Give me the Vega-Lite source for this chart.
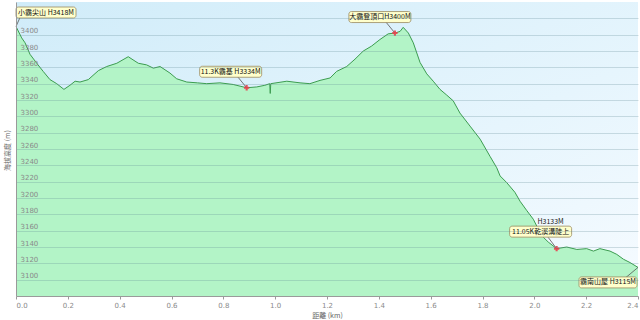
{
  "$schema": "https://vega.github.io/schema/vega-lite/v6.json",
  "width": 622,
  "height": 294,
  "autosize": {"type": "none"},
  "padding": {"left": 16, "top": 2, "right": 2, "bottom": 24},
  "background": "white",
  "config": {
    "view": {
      "stroke": null,
      "fill": {"gradient": "linear", "x1": 0, "y1": 0, "x2": 1, "y2": 1,
        "stops": [{"offset": 0, "color": "#d0ecf9"}, {"offset": 0.6, "color": "#e6f5fd"}, {"offset": 1, "color": "#f6fbff"}]}
    },
    "axis": {
      "labelFont": "DejaVu Sans", "labelFontSize": 7, "labelColor": "#8a8a8a",
      "titleFont": "Noto Sans CJK TC", "titleFontSize": 7, "titleColor": "#666", "titleFontWeight": "normal",
      "domainColor": "#9a9a9a", "tickColor": "#9a9a9a"
    }
  },
  "datasets": {
    "profile": [
      {"km": 0.000, "elev": 3410}, {"km": 0.022, "elev": 3396}, {"km": 0.035, "elev": 3390},
      {"km": 0.054, "elev": 3376}, {"km": 0.080, "elev": 3365}, {"km": 0.105, "elev": 3355},
      {"km": 0.131, "elev": 3345}, {"km": 0.157, "elev": 3340}, {"km": 0.185, "elev": 3333},
      {"km": 0.208, "elev": 3338}, {"km": 0.228, "elev": 3343}, {"km": 0.247, "elev": 3342},
      {"km": 0.279, "elev": 3345}, {"km": 0.318, "elev": 3356}, {"km": 0.350, "elev": 3361},
      {"km": 0.389, "elev": 3365}, {"km": 0.433, "elev": 3373}, {"km": 0.472, "elev": 3365},
      {"km": 0.504, "elev": 3363}, {"km": 0.530, "elev": 3359}, {"km": 0.556, "elev": 3361},
      {"km": 0.594, "elev": 3353}, {"km": 0.620, "elev": 3346}, {"km": 0.659, "elev": 3342},
      {"km": 0.700, "elev": 3341}, {"km": 0.736, "elev": 3340}, {"km": 0.787, "elev": 3341},
      {"km": 0.838, "elev": 3339}, {"km": 0.890, "elev": 3335}, {"km": 0.929, "elev": 3336},
      {"km": 0.960, "elev": 3338}, {"km": 0.979, "elev": 3340}, {"km": 0.981, "elev": 3328},
      {"km": 0.983, "elev": 3340}, {"km": 1.045, "elev": 3343}, {"km": 1.096, "elev": 3341},
      {"km": 1.134, "elev": 3340}, {"km": 1.173, "elev": 3344}, {"km": 1.212, "elev": 3347},
      {"km": 1.237, "elev": 3355}, {"km": 1.276, "elev": 3361}, {"km": 1.308, "elev": 3370},
      {"km": 1.340, "elev": 3380}, {"km": 1.372, "elev": 3386}, {"km": 1.404, "elev": 3394},
      {"km": 1.436, "elev": 3401}, {"km": 1.462, "elev": 3402}, {"km": 1.482, "elev": 3404},
      {"km": 1.494, "elev": 3409}, {"km": 1.514, "elev": 3402}, {"km": 1.533, "elev": 3390},
      {"km": 1.559, "elev": 3366}, {"km": 1.585, "elev": 3352}, {"km": 1.610, "elev": 3343},
      {"km": 1.636, "elev": 3333}, {"km": 1.662, "elev": 3326}, {"km": 1.687, "elev": 3319},
      {"km": 1.713, "elev": 3304}, {"km": 1.752, "elev": 3288}, {"km": 1.791, "elev": 3272},
      {"km": 1.829, "elev": 3251}, {"km": 1.855, "elev": 3237}, {"km": 1.868, "elev": 3227},
      {"km": 1.893, "elev": 3219}, {"km": 1.925, "elev": 3207}, {"km": 1.945, "elev": 3196},
      {"km": 1.970, "elev": 3185}, {"km": 1.996, "elev": 3174}, {"km": 2.028, "elev": 3154},
      {"km": 2.054, "elev": 3146}, {"km": 2.086, "elev": 3138}, {"km": 2.125, "elev": 3140},
      {"km": 2.164, "elev": 3137}, {"km": 2.202, "elev": 3138}, {"km": 2.228, "elev": 3135},
      {"km": 2.253, "elev": 3138}, {"km": 2.292, "elev": 3135}, {"km": 2.318, "elev": 3131},
      {"km": 2.344, "elev": 3125}, {"km": 2.369, "elev": 3121}, {"km": 2.400, "elev": 3115}
    ],
    "ann": [
      {"id": 1, "km": 0.0, "elev": 3410, "label": "小霸尖山 H3418M", "marker": false},
      {"id": 2, "km": 0.890, "elev": 3335, "label": "11.3K霸基 H3334M", "marker": true},
      {"id": 3, "km": 1.462, "elev": 3402, "label": "大霸登頂口H3400M", "marker": true},
      {"id": 4, "km": 2.086, "elev": 3138, "label": "11.05K乾溪溝陡上", "marker": true},
      {"id": 5, "km": 2.400, "elev": 3115, "label": "霸南山屋 H3115M", "marker": false}
    ]
  },
  "layer": [
    {
      "data": {"name": "profile"},
      "mark": {"type": "area", "clip": true, "color": "#b3f4c7", "opacity": 1, "fillOpacity": 1, "line": {"color": "#3c9c50", "strokeWidth": 1}},
      "encoding": {
        "x": {"field": "km", "type": "quantitative",
          "scale": {"domain": [0, 2.4], "nice": false},
          "axis": {"values": [0, 0.2, 0.4, 0.6, 0.8, 1.0, 1.2, 1.4, 1.6, 1.8, 2.0, 2.2, 2.4], "format": ".1f",
            "tickCount": 20, "grid": false, "tickSize": 3, "labelPadding": 2, "title": "距離 (km)", "titlePadding": 3,
            "labelFlush": true, "labelOverlap": false, "zindex": 1}},
        "y": {"field": "elev", "type": "quantitative",
          "scale": {"domain": [3080, 3440], "nice": false, "zero": false},
          "axis": {"values": [3100, 3120, 3140, 3160, 3180, 3200, 3220, 3240, 3260, 3280, 3300, 3320, 3340, 3360, 3380, 3400, 3420],
            "tickCount": 30, "format": "d", "labelOverlap": false,
            "labelExpr": "datum.value == 3420 ? '' : datum.label",
            "grid": true, "gridColor": "#5f8793", "gridOpacity": 0.27, "ticks": false, "labelPadding": -4,
            "labelAlign": "left", "labelBaseline": "bottom", "labelOffset": -1, "labelFlush": false,
            "zindex": 1, "title": "海拔高度 (m)", "titleX": -9, "titleY": 148, "titleAngle": -90,
            "titleAlign": "center", "titleBaseline": "middle"}}
      }
    },
    {
      "data": {"name": "ann"},
      "transform": [{"filter": "datum.id == 1"}],
      "layer": [
        {"mark": {"type": "rule", "color": "#555", "strokeWidth": 0.8, "xOffset": 4, "yOffset": -9},
         "encoding": {"x": {"field": "km", "type": "quantitative"}, "y": {"field": "elev", "type": "quantitative"}, "x2": {"field": "km"}, "y2": {"field": "elev"}}},
        {"mark": {"type": "rect", "width": 60, "height": 11, "xOffset": 30, "yOffset": -14, "fill": "#ffffcc", "stroke": "#9a8a60", "strokeWidth": 0.8, "cornerRadius": 2.5},
         "encoding": {"x": {"field": "km", "type": "quantitative"}, "y": {"field": "elev", "type": "quantitative"}}},
        {"mark": {"type": "text", "dx": 30, "dy": -14, "fontSize": 7, "font": "Noto Sans CJK TC", "color": "#111", "align": "center", "baseline": "middle"},
         "encoding": {"x": {"field": "km", "type": "quantitative"}, "y": {"field": "elev", "type": "quantitative"}, "text": {"field": "label"}}}
      ]
    },
    {
      "data": {"name": "ann"},
      "transform": [{"filter": "datum.id == 2"}],
      "layer": [
        {"mark": {"type": "rule", "color": "#555", "strokeWidth": 0.8, "xOffset": -9, "yOffset": -11},
         "encoding": {"x": {"field": "km", "type": "quantitative"}, "y": {"field": "elev", "type": "quantitative"}, "x2": {"field": "km"}, "y2": {"field": "elev"}}},
        {"mark": {"type": "rect", "width": 62, "height": 11, "xOffset": -16, "yOffset": -16, "fill": "#ffffcc", "stroke": "#9a8a60", "strokeWidth": 0.8, "cornerRadius": 2.5},
         "encoding": {"x": {"field": "km", "type": "quantitative"}, "y": {"field": "elev", "type": "quantitative"}}},
        {"mark": {"type": "text", "dx": -16, "dy": -16, "fontSize": 7, "font": "Noto Sans CJK TC", "color": "#111", "align": "center", "baseline": "middle"},
         "encoding": {"x": {"field": "km", "type": "quantitative"}, "y": {"field": "elev", "type": "quantitative"}, "text": {"field": "label"}}}
      ]
    },
    {
      "data": {"name": "ann"},
      "transform": [{"filter": "datum.id == 3"}],
      "layer": [
        {"mark": {"type": "rule", "color": "#555", "strokeWidth": 0.8, "xOffset": -9, "yOffset": -11},
         "encoding": {"x": {"field": "km", "type": "quantitative"}, "y": {"field": "elev", "type": "quantitative"}, "x2": {"field": "km"}, "y2": {"field": "elev"}}},
        {"mark": {"type": "rect", "width": 62, "height": 11, "xOffset": -15, "yOffset": -16, "fill": "#ffffcc", "stroke": "#9a8a60", "strokeWidth": 0.8, "cornerRadius": 2.5},
         "encoding": {"x": {"field": "km", "type": "quantitative"}, "y": {"field": "elev", "type": "quantitative"}}},
        {"mark": {"type": "text", "dx": -15, "dy": -16, "fontSize": 7, "font": "Noto Sans CJK TC", "color": "#111", "align": "center", "baseline": "middle"},
         "encoding": {"x": {"field": "km", "type": "quantitative"}, "y": {"field": "elev", "type": "quantitative"}, "text": {"field": "label"}}}
      ]
    },
    {
      "data": {"name": "ann"},
      "transform": [{"filter": "datum.id == 4"}],
      "layer": [
        {"mark": {"type": "rule", "color": "#555", "strokeWidth": 0.8, "xOffset": -9, "yOffset": -12},
         "encoding": {"x": {"field": "km", "type": "quantitative"}, "y": {"field": "elev", "type": "quantitative"}, "x2": {"field": "km"}, "y2": {"field": "elev"}}},
        {"mark": {"type": "rect", "width": 62, "height": 11, "xOffset": -16, "yOffset": -17, "fill": "#ffffcc", "stroke": "#9a8a60", "strokeWidth": 0.8, "cornerRadius": 2.5},
         "encoding": {"x": {"field": "km", "type": "quantitative"}, "y": {"field": "elev", "type": "quantitative"}}},
        {"mark": {"type": "text", "dx": -16, "dy": -17, "fontSize": 7, "font": "Noto Sans CJK TC", "color": "#111", "align": "center", "baseline": "middle"},
         "encoding": {"x": {"field": "km", "type": "quantitative"}, "y": {"field": "elev", "type": "quantitative"}, "text": {"field": "label"}}},
        {"mark": {"type": "text", "dx": -6, "dy": -27, "fontSize": 7, "font": "Noto Sans CJK TC", "color": "#222", "align": "center", "baseline": "middle", "text": "H3133M"},
         "encoding": {"x": {"field": "km", "type": "quantitative"}, "y": {"field": "elev", "type": "quantitative"}}}
      ]
    },
    {
      "data": {"name": "ann"},
      "transform": [{"filter": "datum.id == 5"}],
      "layer": [
        {"mark": {"type": "rule", "color": "#555", "strokeWidth": 0.8, "xOffset": -12, "yOffset": 10},
         "encoding": {"x": {"field": "km", "type": "quantitative"}, "y": {"field": "elev", "type": "quantitative"}, "x2": {"field": "km"}, "y2": {"field": "elev"}}},
        {"mark": {"type": "rect", "width": 58, "height": 11, "xOffset": -30, "yOffset": 15, "fill": "#ffffcc", "stroke": "#9a8a60", "strokeWidth": 0.8, "cornerRadius": 2.5},
         "encoding": {"x": {"field": "km", "type": "quantitative"}, "y": {"field": "elev", "type": "quantitative"}}},
        {"mark": {"type": "text", "dx": -30, "dy": 15, "fontSize": 7, "font": "Noto Sans CJK TC", "color": "#111", "align": "center", "baseline": "middle"},
         "encoding": {"x": {"field": "km", "type": "quantitative"}, "y": {"field": "elev", "type": "quantitative"}, "text": {"field": "label"}}}
      ]
    },
    {
      "data": {"name": "ann"},
      "transform": [{"filter": "datum.marker"}],
      "mark": {"type": "point", "shape": "cross", "filled": true, "color": "#e8404c", "size": 28, "opacity": 0.9},
      "encoding": {"x": {"field": "km", "type": "quantitative"}, "y": {"field": "elev", "type": "quantitative"}}
    }
  ]
}
